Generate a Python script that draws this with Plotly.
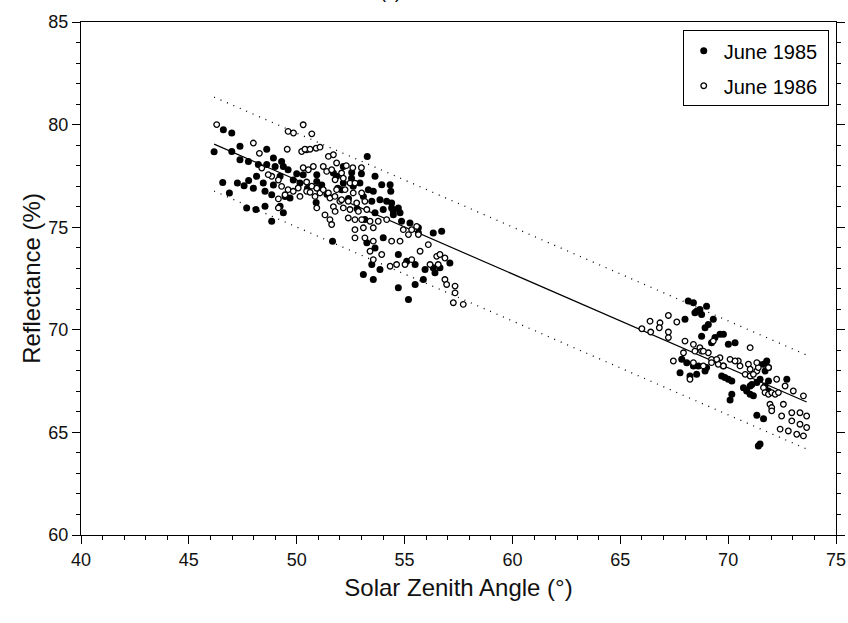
import plotly.graph_objects as go

# ---- data ----
x_1985 = [46.17, 46.6, 46.99, 46.99, 47.37, 47.37, 47.76, 48.61, 46.57, 47.25, 46.88, 47.56, 47.77, 48.14,
          48.22, 48.61, 48.92, 49.0, 49.3, 49.38, 49.6, 47.68, 48.11, 48.53, 48.84, 49.23, 49.38, 47.99,
          48.45, 48.53, 48.84, 48.92, 49.23, 49.46, 49.69, 49.84, 50.15, 50.0, 50.3, 50.93, 50.93, 51.16,
          51.7, 51.85, 52.54, 52.16, 52.08, 52.62, 52.16, 52.55, 53.27, 51.66, 52.93, 53.32, 53.55, 53.09,
          53.48, 53.86, 54.17, 54.01, 54.4, 54.71, 54.79, 53.63, 53.16, 54.48, 53.63, 53.94, 54.33, 54.36,
          54.4, 54.48, 54.86, 55.25, 55.64, 55.64, 56.33, 56.72, 53.25, 53.63, 54.01, 54.71, 55.1, 55.49,
          55.95, 56.33, 56.64, 57.1, 56.41, 53.48, 53.86, 53.09, 53.55, 54.71, 55.18, 55.49, 55.87,
          50.5, 50.9, 51.4, 52.4, 52.8, 51.9, 53.0,
          68.15, 68.39, 68.46, 68.69, 69.0, 68.77, 69.31, 69.08, 68.93, 68.77, 68.0, 69.62, 69.78, 69.39,
          69.23, 70.01, 70.32, 67.85, 68.08, 68.39, 68.62, 68.93, 67.77, 68.23, 69.0, 69.78, 69.7, 69.85,
          70.01, 70.17, 70.71, 70.86, 71.02, 71.17, 71.02, 71.33, 71.48, 71.4, 71.64, 71.79, 71.87, 71.71,
          71.71, 71.87, 71.33, 71.64, 71.48, 71.4, 70.09, 72.72, 68.54, 70.17, 71.1, 68.54, 71.87]
y_1985 = [78.68, 79.75, 79.59, 78.69, 78.94, 78.29, 78.2, 78.8, 77.18, 77.15, 76.67, 77.02, 77.28, 77.48,
          78.05, 78.05, 78.37, 77.96, 78.2, 77.96, 77.8, 75.94, 75.86, 76.02, 75.29, 76.02, 75.7, 76.9,
          77.15, 76.75, 76.58, 77.06, 77.48, 76.5, 76.42, 77.3, 77.15, 77.6, 77.56, 77.56, 77.23, 77.06,
          77.64, 77.48, 77.39, 77.15, 76.83, 77.0, 77.96, 77.67, 78.45, 74.32, 77.15, 76.83, 76.75, 76.5,
          76.26, 76.34, 76.26, 75.86, 75.94, 75.94, 75.7, 75.7, 75.37, 75.61, 77.48, 77.07, 77.07, 76.75,
          76.18, 75.77, 75.29, 75.21, 74.72, 74.97, 74.72, 74.8, 74.24, 73.99, 74.48, 73.67, 73.34, 73.18,
          72.94, 73.02, 73.02, 73.26, 72.78, 73.18, 72.94, 72.69, 72.45, 72.05, 71.48, 72.21, 72.45,
          76.9, 76.2, 76.6, 76.4, 75.9, 76.9, 77.6,
          71.4, 71.32, 70.83, 70.99, 71.15, 70.75, 70.51, 70.26, 70.1, 69.69, 70.51, 69.78, 69.78, 69.62,
          69.37, 69.29, 69.37, 68.56, 68.4, 68.24, 68.24, 67.99, 67.91, 67.75, 68.16, 68.24, 67.75, 67.67,
          67.59, 66.86, 67.18, 67.02, 66.86, 66.78, 67.26, 67.43, 67.59, 68.32, 68.32, 68.48, 68.16, 67.99,
          67.26, 67.02, 65.83, 65.67, 64.43, 64.34, 66.58, 67.59, 70.91, 67.5, 67.34, 67.83, 67.5]

x_1986 = [46.29, 47.99, 48.27, 49.56, 49.6, 49.85, 50.3, 50.23, 50.46, 48.84, 49.15, 48.38, 48.68, 49.3,
          49.6, 49.84, 49.46, 50.07, 50.15, 50.46, 49.15, 49.15, 50.7, 50.38, 50.62, 50.9, 51.08, 51.47,
          51.7, 50.3, 50.54, 50.77, 51.23, 51.39, 50.46, 50.7, 50.93, 50.62, 50.85, 51.08, 51.23, 51.47,
          51.54, 51.77, 52.0, 51.7, 51.31, 51.54, 51.62, 50.93, 51.85, 51.62, 52.08, 51.78, 52.16, 52.47,
          52.7, 51.85, 52.24, 52.62, 53.01, 52.08, 52.39, 52.78, 53.16, 51.78, 52.16, 52.47, 52.86, 53.25,
          52.39, 52.7, 53.01, 53.4, 53.78, 54.17, 52.7, 53.09, 53.55, 52.7, 53.16, 54.94, 55.33, 55.56,
          55.18, 55.64, 56.1, 54.4, 54.79, 53.55, 53.4, 53.94, 53.55, 54.33, 54.63, 55.02, 55.33, 55.72,
          56.18, 56.56, 56.87, 56.49, 56.64, 56.87, 56.95, 57.34, 57.34, 57.26, 57.72, 52.3, 52.6, 53.0,
          66.0, 66.38, 66.84, 66.81, 66.41, 67.23, 67.62, 67.23, 67.23, 68.0, 68.39, 68.69, 68.77, 68.46,
          69.08, 69.23, 69.31, 67.46, 67.93, 68.39, 68.23, 69.62, 70.09, 70.47, 70.55, 70.94, 71.02, 71.33,
          71.4, 71.87, 69.54, 69.78, 70.79, 71.02, 71.02, 71.64, 71.71, 71.87, 72.02, 72.18, 72.33, 72.25,
          72.64, 73.02, 73.49, 71.94, 72.02, 72.56, 72.48, 72.95, 73.33, 73.64, 72.95, 73.33, 73.64, 72.41,
          72.79, 73.18, 73.49, 72.02, 68.85, 69.23, 69.47, 70.32, 71.33, 71.17, 68.85]
y_1986 = [80.0, 79.1, 78.6, 78.8, 79.67, 79.59, 79.99, 78.69, 78.77, 77.48, 77.3, 77.88, 77.56, 76.99,
          76.83, 76.75, 76.58, 76.91, 76.5, 76.75, 76.38, 75.94, 79.55, 78.8, 78.8, 78.85, 78.9, 78.45,
          78.53, 77.9, 77.8, 77.96, 77.96, 77.72, 77.2, 77.0, 76.9, 76.7, 76.5, 76.67, 76.83, 76.67,
          76.42, 76.5, 76.26, 76.0, 75.6, 75.37, 75.13, 75.94, 78.13, 77.8, 77.64, 77.31, 77.39, 77.15,
          77.15, 76.83, 76.83, 76.67, 76.67, 76.34, 76.26, 76.18, 76.26, 75.77, 75.94, 75.86, 75.77, 75.86,
          75.45, 75.37, 75.37, 75.29, 75.29, 75.37, 74.88, 74.97, 74.97, 74.48, 74.48, 74.88, 74.88, 75.04,
          74.64, 74.64, 74.15, 74.32, 74.32, 74.32, 73.83, 73.67, 73.42, 73.1, 73.18, 73.18, 73.42, 73.83,
          73.18, 73.18, 73.5, 73.58, 73.67, 72.45, 72.21, 72.13, 71.8, 71.32, 71.24, 78.0, 77.9, 77.9,
          70.05, 70.42, 70.34, 70.1, 69.89, 70.7, 70.38, 69.89, 69.62, 69.45, 69.29, 69.13, 68.96, 68.96,
          68.88, 68.56, 69.45, 68.48, 68.88, 68.4, 67.59, 68.64, 68.56, 68.48, 68.24, 68.32, 68.08, 67.99,
          68.16, 68.16, 68.32, 68.24, 67.83, 67.75, 69.13, 67.18, 66.94, 66.86, 66.94, 66.86, 66.94, 67.59,
          67.26, 67.02, 66.78, 66.37, 66.21, 66.37, 65.8, 65.96, 65.96, 65.8, 65.56, 65.4, 65.24, 65.16,
          65.07, 64.91, 64.83, 66.05, 68.24, 68.4, 68.56, 68.48, 68.4, 67.83, 68.96]

fit_x = [46.17, 73.64]
fit_y = [79.05, 66.48]
band_upper_y = [81.34, 68.77]
band_lower_y = [76.76, 64.19]

x_ticks = [40, 45, 50, 55, 60, 65, 70, 75]
y_ticks = [60, 65, 70, 75, 80, 85]

FONT = "Liberation Sans, Arial, Helvetica, sans-serif"

fig = go.Figure()

fig.add_trace(go.Scatter(x=fit_x, y=band_upper_y, mode="lines", showlegend=False,
                         line=dict(color="black", width=1.3, dash="1px,6px")))
fig.add_trace(go.Scatter(x=fit_x, y=band_lower_y, mode="lines", showlegend=False,
                         line=dict(color="black", width=1.3, dash="1px,6px")))
fig.add_trace(go.Scatter(x=fit_x, y=fit_y, mode="lines", showlegend=False,
                         line=dict(color="black", width=1.2)))

fig.add_trace(go.Scatter(x=x_1985, y=y_1985, mode="markers", name="June 1985&nbsp;",
                         legendgroup="a",
                         marker=dict(symbol="circle", size=7, color="black",
                                     line=dict(width=0))))
fig.add_trace(go.Scatter(x=x_1986, y=y_1986, mode="markers", name="June 1986&nbsp;",
                         legendgroup="b",
                         marker=dict(symbol="circle", size=5.6, color="white",
                                     line=dict(width=1.3, color="black"))))

fig.add_annotation(text="(c)", xref="paper", yref="paper", x=0.41, y=1.036,
                   xanchor="center", yanchor="bottom", showarrow=False,
                   font=dict(family=FONT, size=18, color="black"))

fig.update_layout(
    width=848, height=623,
    margin=dict(l=81, r=12, t=22, b=88, autoexpand=False),
    paper_bgcolor="white", plot_bgcolor="white",
    font=dict(family=FONT, size=16, color="#111"),
    legend=dict(x=0.797, y=0.984, xanchor="left", yanchor="top",
                bordercolor="black", borderwidth=1, bgcolor="white",
                font=dict(family=FONT, size=20, color="black"),
                itemwidth=30, traceorder="grouped", tracegroupgap=6),
)
fig.update_xaxes(
    range=[40, 75], tickvals=x_ticks, showgrid=False, zeroline=False, automargin=False,
    showline=True, linecolor="black", linewidth=1.2, mirror=True,
    ticks="outside", ticklen=8, tickwidth=1, tickcolor="black",
    minor=dict(dtick=1, ticks="outside", ticklen=4, tickcolor="black", showgrid=False),
    title=dict(text="Solar Zenith Angle (°)", font=dict(family=FONT, size=24, color="#111"), standoff=10),
    tickfont=dict(family=FONT, size=18, color="#111"),
)
fig.update_yaxes(
    range=[60, 85], tickvals=y_ticks, showgrid=False, zeroline=False, automargin=False,
    showline=True, linecolor="black", linewidth=1.2, mirror="ticks",
    ticks="outside", ticklen=8, tickwidth=1, tickcolor="black",
    minor=dict(dtick=1, ticks="outside", ticklen=4, tickcolor="black", showgrid=False),
    title=dict(text="Reflectance (%)", font=dict(family=FONT, size=24, color="#111"), standoff=0),
    tickfont=dict(family=FONT, size=18, color="#111"),
)

fig.write_html("out.html")
